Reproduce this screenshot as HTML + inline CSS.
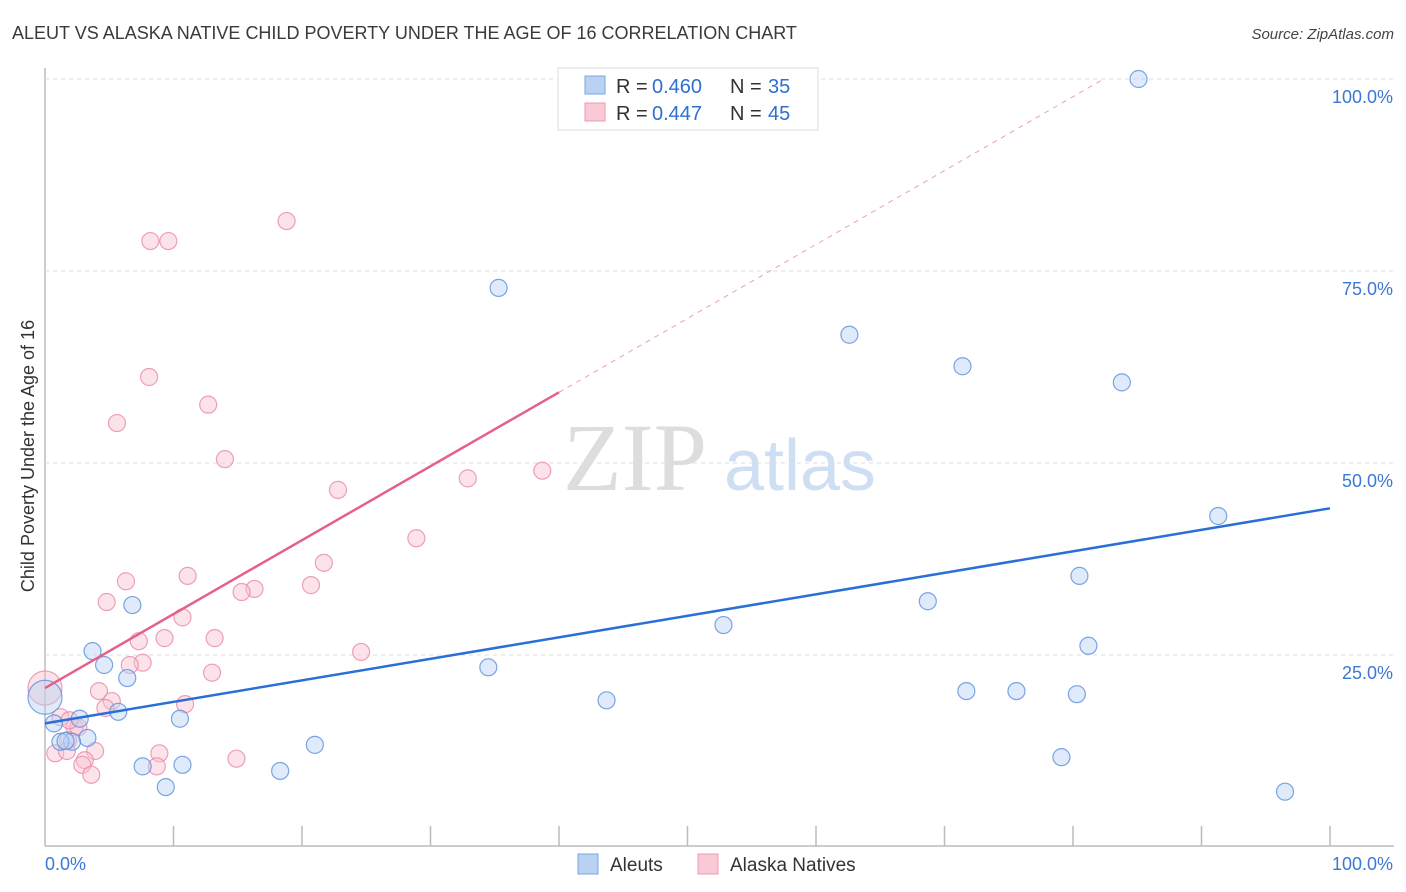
<!DOCTYPE html>
<html><head><meta charset="utf-8"><style>
body{margin:0;background:#fff;font-family:"Liberation Sans",sans-serif;}
svg{display:block}
</style></head><body>
<svg id="c" width="1406" height="892">
<text x="12" y="39" font-size="18" fill="#3a3a3a">ALEUT VS ALASKA NATIVE CHILD POVERTY UNDER THE AGE OF 16 CORRELATION CHART</text>
<text x="1394" y="39" font-size="15" fill="#444" font-style="italic" text-anchor="end">Source: ZipAtlas.com</text>
<text x="0" y="0" transform="translate(34,456) rotate(-90)" font-size="18" fill="#333" text-anchor="middle">Child Poverty Under the Age of 16</text>
<g><text x="635" y="490" font-size="96" fill="#ddd" font-family="Liberation Serif" text-anchor="middle">ZIP</text><text x="800" y="490" font-size="72" fill="#cfdff3" text-anchor="middle">atlas</text></g>
<g id="grid"></g><g id="marks"></g>
<g>
<rect x="558" y="68" width="260" height="62" fill="#fff" stroke="#ddd"/>
<rect x="585" y="76" width="20" height="18" fill="#b9d2f3" stroke="#7aa6e0"/>
<rect x="585" y="103" width="20" height="18" fill="#f9c9d6" stroke="#ec9ab2"/>
<text x="616" y="93" font-size="20" fill="#333">R =</text><text x="652" y="93" font-size="20" fill="#2f6fd0">0.460</text>
<text x="730" y="93" font-size="20" fill="#333">N =</text><text x="768" y="93" font-size="20" fill="#2f6fd0">35</text>
<text x="616" y="120" font-size="20" fill="#333">R =</text><text x="652" y="120" font-size="20" fill="#2f6fd0">0.447</text>
<text x="730" y="120" font-size="20" fill="#333">N =</text><text x="768" y="120" font-size="20" fill="#2f6fd0">45</text>
</g>
<g>
<rect x="578" y="854" width="20" height="20" fill="#b9d2f3" stroke="#7aa6e0"/><text x="610" y="871" font-size="19" fill="#333">Aleuts</text>
<rect x="698" y="854" width="20" height="20" fill="#f9c9d6" stroke="#ec9ab2"/><text x="730" y="871" font-size="19" fill="#333">Alaska Natives</text>
</g>
</svg>
<script>
const yTicks=[25,50,75,100];
const yTickLabels=["25.0%","50.0%","75.0%","100.0%"];
const blueX=[85.1,35.3,62.6,71.4,83.8,91.3,80.5,68.7,52.8,81.2,34.5,71.7,75.6,80.3,43.7,79.1,96.5,21.0,18.3,10.7,7.6,9.4,6.8,3.7,4.6,6.4,5.7,10.5,2.7,0.7,3.3,2.1,1.2,1.6,0];
const blueY=[100,72.8,66.7,62.6,60.5,43.1,35.3,32.0,28.9,26.2,23.4,20.3,20.3,19.9,19.1,11.7,7.2,13.3,9.9,10.7,10.5,7.8,31.5,25.5,23.7,22.0,17.6,16.7,16.7,16.1,14.2,13.7,13.7,13.8,19.5];
const pinkX=[18.8,8.2,9.6,8.1,12.7,5.6,14.0,22.8,32.9,38.7,28.9,21.7,11.1,6.3,4.8,16.3,15.3,20.7,10.7,7.3,9.3,13.2,24.6,7.6,6.6,13.0,4.2,5.2,4.7,10.9,1.2,2.3,2.6,1.8,3.9,0.8,1.7,3.1,2.9,8.9,8.7,14.9,3.6,0,1.9];
const pinkY=[81.5,78.9,78.9,61.2,57.6,55.2,50.5,46.5,48.0,49.0,40.2,37.0,35.3,34.6,31.9,33.6,33.2,34.1,29.9,26.8,27.2,27.2,25.4,24.0,23.7,22.7,20.3,19.0,18.1,18.6,16.9,15.6,15.6,13.9,12.5,12.2,12.5,11.3,10.7,12.2,10.5,11.5,9.4,20.7,16.5];
const blueTrend=[16.1,44.1];
const pinkTrend=[20.7,59.2];
const NS="http://www.w3.org/2000/svg";
const X=v=>45+v*12.85, Y=v=>847-v*7.68;
const grid=document.getElementById('grid'), marks=document.getElementById('marks');
function mk(tag,at,par){const e=document.createElementNS(NS,tag);for(const k in at)e.setAttribute(k,at[k]);par.appendChild(e);return e;}
let ax=mk('line',{x1:45,y1:68,x2:45,y2:846,stroke:'#bbb','stroke-width':1.5},grid);

let bx=mk('line',{x1:45,y1:846,x2:1394,y2:846,stroke:'#bbb','stroke-width':1.5},grid);

yTicks.forEach((t,i)=>{
 const g=mk('line',{x1:45,y1:Y(t),x2:1394,y2:Y(t),stroke:'#ddd','stroke-dasharray':'4,4'},grid);
 
 const l=mk('text',{x:1393,y:Y(t)+24,'font-size':18,fill:'#3a78d4','text-anchor':'end'},grid);
 l.textContent=yTickLabels[i];
 
});
for(let i=1;i<=10;i++){const t=mk('line',{x1:X(i*10),y1:826,x2:X(i*10),y2:846,stroke:'#bbb','stroke-width':1.5},grid);
 }
const xl0=mk('text',{x:45,y:870,'font-size':18,fill:'#3a78d4'},grid);xl0.textContent='0.0%';

const xl1=mk('text',{x:1393,y:870,'font-size':18,fill:'#3a78d4','text-anchor':'end'},grid);xl1.textContent='100.0%';

function pts(xs,ys,fill,stroke,name){xs.forEach((x,i)=>{const big=(x===0);
 const c=mk('circle',{cx:X(x),cy:Y(ys[i]),r:big?17:8.5,fill:fill,'fill-opacity':0.45,stroke:stroke,'stroke-opacity':0.8,'stroke-width':1.2},marks);
 });}
pts(pinkX,pinkY,'#f9c0d0','#e98aa8','alaska-native-point');
pts(blueX,blueY,'#b9d2f3','#5b8fdc','aleut-point');
const ps=(pinkTrend[1]-pinkTrend[0])/40, xEnd=(100-pinkTrend[0])/ps;
const pd=mk('line',{x1:X(40),y1:Y(pinkTrend[1]),x2:X(xEnd),y2:Y(100),stroke:'#eaa0b8','stroke-dasharray':'5,5'},marks);

const pl=mk('line',{x1:X(0),y1:Y(pinkTrend[0]),x2:X(40),y2:Y(pinkTrend[1]),stroke:'#e5608a','stroke-width':2.5},marks);

const bl=mk('line',{x1:X(0),y1:Y(blueTrend[0]),x2:X(100),y2:Y(blueTrend[1]),stroke:'#2a6fd6','stroke-width':2.5},marks);

</script>
</body></html>
